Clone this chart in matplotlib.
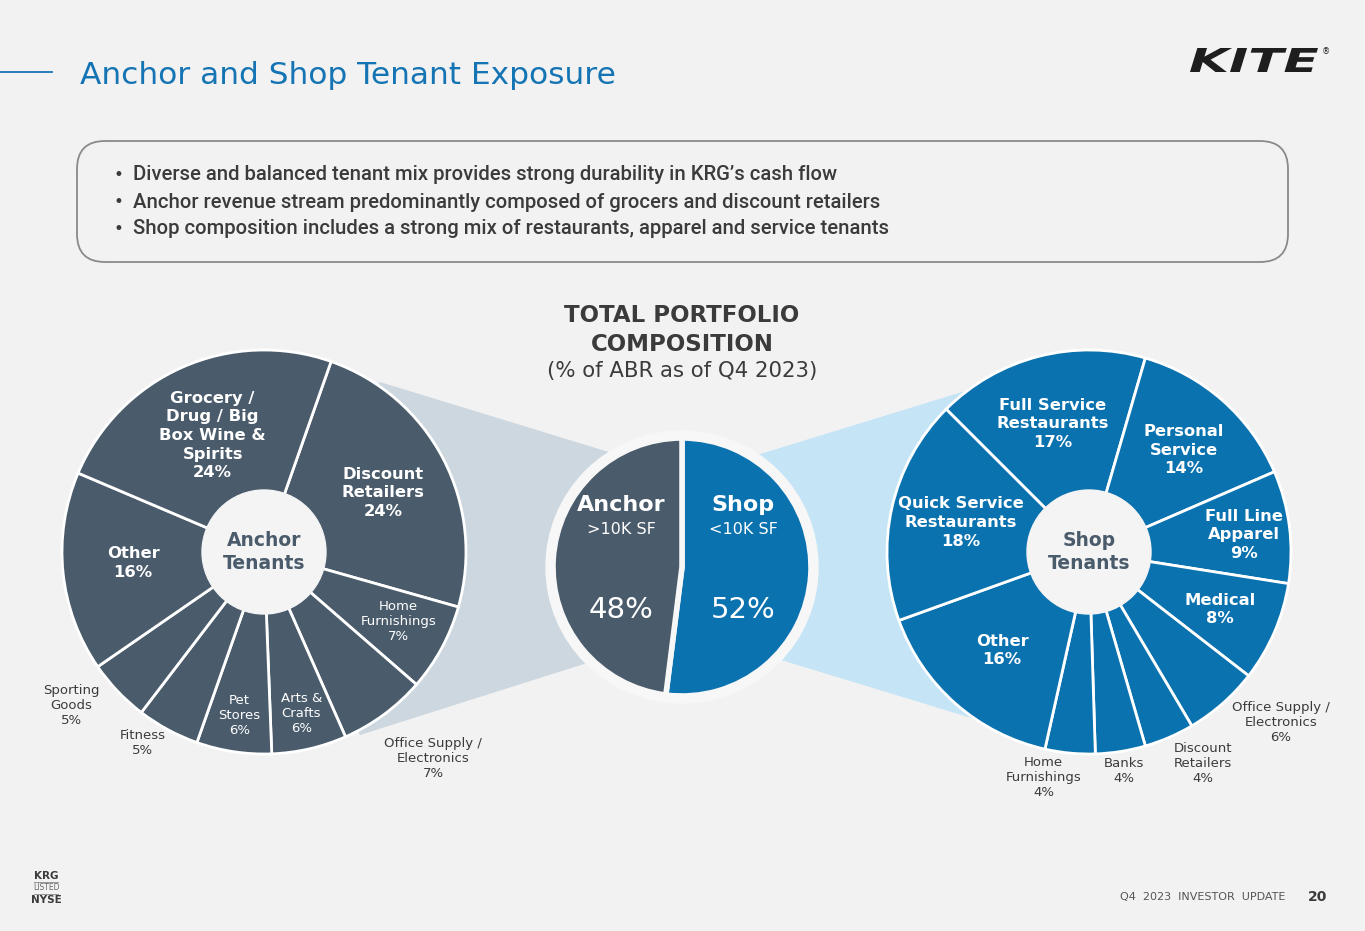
import numpy as np
import matplotlib.pyplot as plt
from matplotlib.patches import Circle, Polygon, FancyBboxPatch, PathPatch
from matplotlib.textpath import TextPath
from matplotlib.font_manager import FontProperties
from matplotlib.transforms import Affine2D

# data
split_labels = ["Shop", "Anchor"]
split_sub = ["<10K SF", ">10K SF"]
split_values = [52, 48]

anchor_cats = ["Discount\nRetailers", "Home\nFurnishings", "Office Supply /\nElectronics",
               "Arts &\nCrafts", "Pet\nStores", "Fitness", "Sporting\nGoods", "Other",
               "Grocery /\nDrug / Big\nBox Wine &\nSpirits"]
anchor_values = [24, 7, 7, 6, 6, 5, 5, 16, 24]

shop_cats = ["Full Service\nRestaurants", "Personal\nService", "Full Line\nApparel", "Medical",
             "Office Supply /\nElectronics", "Discount\nRetailers", "Banks", "Home\nFurnishings",
             "Other", "Quick Service\nRestaurants"]
shop_values = [17, 14, 9, 8, 6, 4, 4, 4, 16, 18]

bullets = ["Diverse and balanced tenant mix provides strong durability in KRG\u2019s cash flow",
           "Anchor revenue stream predominantly composed of grocers and discount retailers",
           "Shop composition includes a strong mix of restaurants, apparel and service tenants"]

BG = '#f2f2f2'
ANCHOR = '#4a5b6b'
SHOP = '#0b72b0'
BLUE = '#1574b3'
DARK = '#3b3b3b'
H = 931

def py(y):
    return H - y

fig = plt.figure(figsize=(13.65, 9.31), dpi=100, facecolor=BG)
ax = fig.add_axes([0, 0, 1, 1])
ax.set_facecolor(BG)

# funnels connecting the pies
ax.add_patch(Polygon([(264, py(552)), (380, py(382)), (612, py(453)), (682, py(567)),
                      (587, py(663)), (360, py(735))], closed=True, color='#cdd7df', lw=0, zorder=1))
ax.add_patch(Polygon([(682, py(567)), (757, py(455)), (962, py(392)), (1089, py(552)),
                      (978, py(720)), (781, py(660))], closed=True, color='#c5e5f6', lw=0, zorder=1))
ax.add_patch(Circle((682, py(567)), 136, color='#f7f7f7', zorder=2))

# center pie
cw, _ = ax.pie(split_values, colors=[SHOP, ANCHOR], startangle=90, counterclock=False,
               center=(682, py(567)), radius=129,
               wedgeprops=dict(edgecolor='#f7f7f7', linewidth=4))
for w in cw:
    w.set_zorder(3)
for w, lab, sub, v in zip(cw, split_labels, split_sub, split_values):
    mid = np.deg2rad((w.theta1 + w.theta2) / 2)
    x = 682 + 61 * np.sign(np.cos(mid))
    ax.text(x, py(505), lab, ha='center', va='center', color='white', fontsize=16, weight='bold', zorder=4)
    ax.text(x, py(529), sub, ha='center', va='center', color='white', fontsize=11.5, zorder=4)
    ax.text(x, py(610), f"{v}%", ha='center', va='center', color='white', fontsize=21, zorder=4)


def donut(values, cats, color, cx, cy, start, placement, inner_label):
    wedges, _ = ax.pie(values, colors=[color] * len(values), startangle=start, counterclock=False,
                       center=(cx, py(cy)), radius=202,
                       wedgeprops=dict(edgecolor='white', linewidth=2))
    for w in wedges:
        w.set_zorder(3)
    ax.add_patch(Circle((cx, py(cy)), 62, color='#f4f4f4', zorder=4))
    ax.text(cx, py(cy), inner_label, ha='center', va='center', color=ANCHOR,
            fontsize=13.5, weight='bold', linespacing=1.25, zorder=5)
    for w, cat, v, (rf, off, fs) in zip(wedges, cats, values, placement):
        ang = np.deg2rad((w.theta1 + w.theta2) / 2 - off)
        x = cx + rf * 202 * np.cos(ang)
        y = py(cy) + rf * 202 * np.sin(ang)
        inside = rf < 1
        ax.text(x, y, f"{cat}\n{v}%", ha='center', va='center',
                color='white' if inside else DARK, fontsize=fs,
                weight='bold' if (inside and fs > 11) else 'normal',
                linespacing=1.3 if fs > 11 else 1.2, zorder=5)


anchor_place = [(0.66, 1, 11.8), (0.75, -1, 9.5), (1.32, -3, 9.5), (0.82, 0, 9.5), (0.82, 0, 9.5),
                (1.12, 4, 9.5), (1.22, 5, 9.5), (0.65, 1, 11.8), (0.63, 0, 11.8)]
shop_place = [(0.66, -1.3, 11.8), (0.69, 1.6, 11.8), (0.77, 0.9, 11.8), (0.71, 0.3, 11.8),
              (1.27, -7, 9.5), (1.19, -5, 9.5), (1.1, 0, 9.5), (1.14, 6, 9.5),
              (0.65, 0, 11.8), (0.65, 0.4, 11.8)]

donut(anchor_values, anchor_cats, ANCHOR, 264, 552, 70.6, anchor_place, "Anchor\nTenants")
donut(shop_values, shop_cats, SHOP, 1089, 552, 135, shop_place, "Shop\nTenants")

ax.set_xlim(0, 1365)
ax.set_ylim(0, H)
ax.set_aspect('equal')
ax.axis('off')

# header
ax.plot([0, 52], [py(72), py(72)], color=BLUE, lw=1.3)
ax.text(80, py(75), "Anchor and Shop Tenant Exposure", color=BLUE, fontsize=22.5, va='center')

# logo, stretched wide like the original
tp = TextPath((0, 0), "KITE", size=30, prop=FontProperties(family='DejaVu Sans', weight='bold', style='italic'))
bb = tp.get_extents()
sx = 128 / bb.width
sy = 24 / bb.height
tf = Affine2D().translate(-bb.x0, -bb.y0).scale(sx, sy).translate(1190, py(72))
ax.add_patch(PathPatch(tf.transform_path(tp), color='#1e1e1e', lw=0, zorder=5))
ax.text(1322, py(52), "\u00ae", fontsize=6, ha='left', va='center', color='#1e1e1e')

# bullet box
ax.add_patch(FancyBboxPatch((77, py(262)), 1211, 121, boxstyle="round,pad=0,rounding_size=28",
                            fc=BG, ec='#8a8a8a', lw=1.3, zorder=1))
for i, b in enumerate(bullets):
    ax.text(113, py(175 + 27 * i), "\u2022", fontsize=12, color=DARK, va='center')
    ax.text(133, py(175 + 27 * i), b, fontsize=14.6, color=DARK, va='center',
            family='Roboto', weight='medium')

ax.text(682, py(330), "TOTAL PORTFOLIO\nCOMPOSITION", ha='center', va='center', fontsize=16.5,
        weight='bold', color=DARK, linespacing=1.3)
ax.text(682, py(371), "(% of ABR as of Q4 2023)", ha='center', va='center', fontsize=15.3, color=DARK)

# footer
ax.text(46, py(876), "KRG", ha='center', va='center', fontsize=7.5, weight='bold', color=DARK)
ax.plot([34, 58], [py(882), py(882)], color='#888888', lw=0.6)
ax.text(46, py(888), "LISTED", ha='center', va='center', fontsize=5.5, color='#666666')
ax.plot([34, 58], [py(894), py(894)], color='#888888', lw=0.6)
ax.text(46, py(900), "NYSE", ha='center', va='center', fontsize=7.5, weight='bold', color=DARK)
ax.text(1285, py(897), "Q4  2023  INVESTOR  UPDATE", ha='right', va='center', fontsize=8, color='#555555')
ax.text(1318, py(897), "20", ha='center', va='center', fontsize=10, weight='bold', color=DARK)

fig.savefig('out.png', dpi=100, facecolor=BG)
